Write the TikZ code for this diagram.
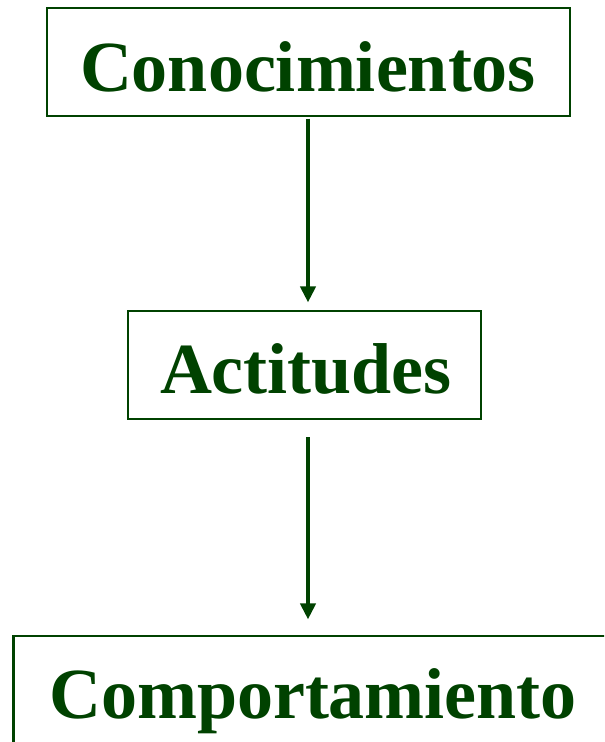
\documentclass[tikz,border=0pt]{standalone}
\usepackage{fontspec}
\setmainfont{Liberation Serif}
\usetikzlibrary{arrows.meta}
\definecolor{dgreen}{RGB}{0,66,0}
\begin{document}
\begin{tikzpicture}[x=0.75pt,y=-0.75pt,
  boxst/.style={draw=dgreen,line width=2pt,inner sep=0pt,outer sep=0pt,rectangle},
  lbl/.style={text=dgreen,font=\fontsize{54pt}{60pt}\selectfont\bfseries,inner sep=0pt,anchor=base},
  arr/.style={draw=dgreen,line width=2.6pt,-{Triangle[width=11.5pt,length=12pt]}}]
\useasboundingbox (0,0) rectangle (604,742);
\clip (0,0) rectangle (604,742);
\node[boxst,minimum width=392.25pt,minimum height=81pt] (top) at (308.5,62) {};
\node[boxst,minimum width=264.75pt,minimum height=81pt] (mid) at (304.5,365) {};
\node[boxst,minimum width=455pt,minimum height=93pt] (bot) at (316.75,698) {};
\node[lbl] (t1) at (308,92) {Conocimientos};
\node[lbl] (t2) at (306,393) {Actitudes};
\node[lbl] (t3) at (313,718) {Comportamiento};
\coordinate (ax) at (308,0);
\draw[arr,shorten <=2pt,shorten >=6.5pt] (top.south -| ax) -- (mid.north -| ax);
\draw[arr,shorten <=13.5pt,shorten >=12.5pt] (mid.south -| ax) -- (bot.north -| ax);
\end{tikzpicture}
\end{document}
